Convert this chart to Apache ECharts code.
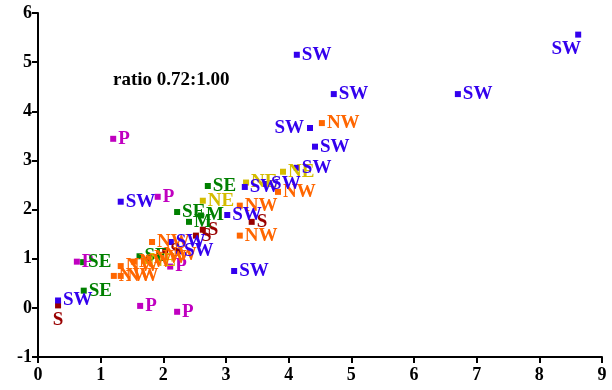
<!DOCTYPE html>
<html><head><meta charset="utf-8">
<script src="https://cdn.jsdelivr.net/npm/echarts@6/dist/echarts.min.js"></script>
<style>html,body{margin:0;padding:0;background:#fff}#c{width:612px;height:390px}</style>
</head><body><div id="c"></div>
<script>
// Data
var SW = [[4.13,5.15],[8.62,5.56],[4.72,4.35],[6.70,4.35],[4.34,3.66],[4.42,3.28],[4.13,2.85],[3.30,2.46],[3.64,2.52],[3.02,1.89],[1.32,2.16],[2.12,1.34],[2.25,1.15],[3.13,0.75],[0.32,0.15]];
var NW = [[4.53,3.76],[3.83,2.36],[3.22,2.08],[3.22,1.47],[1.82,1.34],[1.21,0.65],[1.32,0.65],[1.32,0.85],[1.53,0.94],[1.77,1.02],[1.93,1.08]];
var NE = [[3.91,2.77],[3.32,2.55],[2.63,2.18],[1.70,0.95]];
var SE = [[2.71,2.48],[2.22,1.95],[1.62,1.05],[0.72,0.93],[0.73,0.35]];
var M  = [[2.41,1.75],[2.60,1.88]];
var P  = [[1.20,3.44],[1.91,2.26],[2.11,0.84],[0.62,0.94],[1.63,0.04],[2.22,-0.08]];
var S  = [[0.32,0.05],[3.41,1.75],[2.63,1.59],[2.52,1.47],[2.03,1.16]];
var xTicks = [0,1,2,3,4,5,6,7,8,9];
var yTicks = [-1,0,1,2,3,4,5,6];
var note = 'ratio 0.72:1.00';

var groups = [
  {name:'S', data:S, color:'#990000'},
  {name:'P', data:P, color:'#c000c0'},
  {name:'SE', data:SE, color:'#008000'},
  {name:'M', data:M, color:'#008000'},
  {name:'NE', data:NE, color:'#d4bc00'},
  {name:'NW', data:NW, color:'#ff6600'},
  {name:'SW', data:SW, color:'#3300ee'}
];
// label placement exceptions (style, not data)
var labelOverrides = {
  'SW-1': {position:'bottom', distance:2, offset:[-12,0]},
  'SW-4': {position:'left', distance:3},
  'S-0': {position:'bottom', distance:2}
};
var FONT = '"Liberation Serif","DejaVu Serif",serif';
var series = groups.map(function(g){
  return {
    type:'scatter', name:g.name, symbol:'rect', symbolSize:6,
    itemStyle:{color:g.color, opacity:1},
    label:{show:true, position:'right', distance:2, formatter:g.name,
      color:g.color, fontFamily:FONT, fontWeight:'bold', fontSize:19, opacity:1},
    data:g.data.map(function(p,i){
      var o = labelOverrides[g.name+'-'+i];
      var item = {value:p};
      if(o) item.label = o;
      return item;
    })
  };
});
var chart = echarts.init(document.getElementById('c'), null, {renderer:'canvas'});
chart.setOption({
  animation:false,
  grid:{left:38, right:10, top:13, bottom:33, containLabel:false},
  title:{text:note, left:108, top:66, textStyle:{fontFamily:FONT, fontWeight:'bold', fontSize:19, color:'#000'}},
  xAxis:{type:'value', min:xTicks[0], max:xTicks[xTicks.length-1], interval:1,
    splitLine:{show:false},
    axisLine:{onZero:false, lineStyle:{color:'#000', width:2}},
    axisTick:{show:true, length:6, lineStyle:{color:'#000', width:2}},
    axisLabel:{margin:9, color:'#000', fontFamily:FONT, fontWeight:'bold', fontSize:18}},
  yAxis:{type:'value', min:yTicks[0], max:yTicks[yTicks.length-1], interval:1,
    splitLine:{show:false},
    axisLine:{show:true, onZero:false, lineStyle:{color:'#000', width:2}},
    axisTick:{show:true, length:6, lineStyle:{color:'#000', width:2}},
    axisLabel:{margin:6, color:'#000', fontFamily:FONT, fontWeight:'bold', fontSize:18}},
  series:series
});
</script></body></html>
